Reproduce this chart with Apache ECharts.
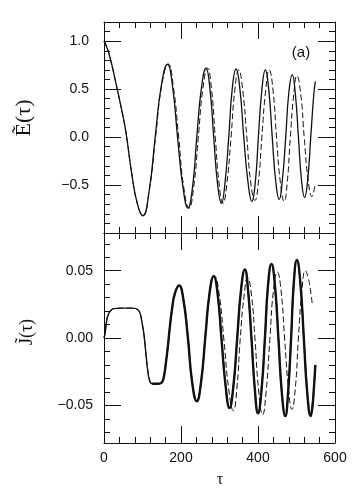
<!DOCTYPE html>
<html>
<head>
<meta charset="utf-8">
<script src="https://cdn.jsdelivr.net/npm/echarts@6/dist/echarts.min.js"></script>
<style>
  html, body { margin: 0; padding: 0; background: #fff; }
  #chart { width: 354px; height: 495px; }
</style>
</head>
<body>
<div id="chart"></div>
<script>
// E~(tau): solid and dashed curves, [tau, value]
const eSolid = [
  [0, 1.00], [6, 0.95], [15, 0.84], [30, 0.58], [45, 0.30], [57, 0.05], [72, -0.38], [87, -0.70], [101, -0.82],
  [117, -0.57], [133, 0.0], [149, 0.54], [165, 0.76],
  [178, 0.53], [191, 0.0], [205, -0.52], [218, -0.74],
  [230, -0.52], [241, 0.0], [253, 0.51], [265, 0.72],
  [275, 0.51], [285, 0.0], [295, -0.49], [305, -0.69],
  [314, -0.49], [324, 0.0], [333, 0.50], [343, 0.71],
  [353, 0.50], [363, 0.0], [374, -0.47], [384, -0.67],
  [393, -0.47], [401, 0.0], [410, 0.49], [419, 0.70],
  [428, 0.49], [437, 0.0], [446, -0.46], [455, -0.65],
  [463, -0.46], [472, 0.0], [480, 0.46], [489, 0.65],
  [497, 0.45], [505, 0.0], [513, -0.45], [521, -0.63],
  [529, -0.45], [537, 0.0], [545, 0.45], [549, 0.58]
];
const eDashed = [
  [0, 1.00], [6, 0.95], [15, 0.84], [30, 0.58], [45, 0.30], [57, 0.05], [72, -0.38], [87, -0.70], [101, -0.82],
  [117, -0.57], [134, 0.0], [150, 0.54], [167, 0.76],
  [180, 0.53], [194, 0.0], [207, -0.52], [221, -0.74],
  [233, -0.52], [245, 0.0], [257, 0.51], [269, 0.72],
  [279, 0.51], [289, 0.0], [299, -0.49], [309, -0.69],
  [319, -0.49], [330, 0.0], [340, 0.50], [350, 0.70],
  [360, 0.50], [371, 0.0], [381, -0.47], [392, -0.66],
  [401, -0.47], [410, 0.0], [420, 0.49], [429, 0.70],
  [439, 0.49], [448, 0.0], [458, -0.47], [468, -0.67],
  [476, -0.47], [484, 0.0], [493, 0.45], [501, 0.64],
  [511, 0.45], [520, 0.0], [530, -0.44], [540, -0.62],
  [548, -0.50]
];
// J~(tau)
const jSolid = [
  [0, 0.0], [3, 0.004], [7, 0.013], [12, 0.018], [18, 0.0205], [25, 0.0218], [50, 0.0222], [75, 0.0222],
  [88, 0.021], [94, 0.018], [99, 0.011], [104, 0.002], [109, -0.012], [114, -0.025], [119, -0.032],
  [125, -0.034], [140, -0.034], [150, -0.033], [156, -0.028], [161, -0.018], [166, -0.006],
  [171, 0.008], [177, 0.022], [184, 0.033], [195, 0.039],
  [206, 0.029], [218, 0.0], [229, -0.033], [241, -0.047],
  [252, -0.033], [263, 0.0], [274, 0.033], [285, 0.046],
  [295, 0.033], [305, 0.0], [316, -0.036], [326, -0.052],
  [336, -0.036], [346, 0.0], [356, 0.036], [366, 0.051],
  [374, 0.036], [383, 0.0], [392, -0.039], [400, -0.056],
  [409, -0.039], [418, 0.0], [426, 0.039], [435, 0.055],
  [444, 0.039], [453, 0.0], [462, -0.041], [471, -0.058],
  [478, -0.041], [486, 0.0], [493, 0.041], [501, 0.058],
  [510, 0.041], [519, 0.0], [528, -0.041], [537, -0.058],
  [541, -0.052], [545, -0.038], [549, -0.020]
];
const jDashed = [
  [0, 0.0], [3, 0.004], [7, 0.013], [12, 0.018], [18, 0.0205], [25, 0.0218], [50, 0.0222], [75, 0.0222],
  [88, 0.021], [94, 0.018], [99, 0.011], [104, 0.002], [109, -0.012], [114, -0.025], [119, -0.032],
  [125, -0.034], [140, -0.034], [150, -0.033], [156, -0.028], [161, -0.018], [166, -0.006],
  [171, 0.008], [177, 0.022], [184, 0.033], [195, 0.039],
  [206, 0.029], [218, 0.0], [229, -0.033], [241, -0.047],
  [252, -0.033], [263, 0.0], [274, 0.033], [287, 0.046],
  [299, 0.033], [311, 0.0], [324, -0.038], [336, -0.054],
  [345, -0.038], [354, 0.0], [364, 0.032], [373, 0.045],
  [383, 0.032], [392, 0.0], [402, -0.040], [412, -0.057],
  [421, -0.040], [431, 0.0], [440, 0.035], [450, 0.049],
  [460, 0.035], [469, 0.0], [479, -0.037], [488, -0.053],
  [497, -0.037], [505, 0.0], [514, 0.035], [523, 0.050],
  [530, 0.045], [536, 0.036], [541, 0.025]
];

// ticks
const eMajor = [-1.0, -0.5, 0.0, 0.5, 1.0];
const eLabels = [-0.5, 0.0, 0.5, 1.0];
const eMinor = [-0.9, -0.8, -0.7, -0.6, -0.4, -0.3, -0.2, -0.1, 0.1, 0.2, 0.3, 0.4, 0.6, 0.7, 0.8, 0.9, 1.1];
const jMajor = [-0.05, 0.0, 0.05];
const jLabels = [-0.05, 0.0, 0.05];
const jMinor = [-0.07, -0.06, -0.04, -0.03, -0.02, -0.01, 0.01, 0.02, 0.03, 0.04, 0.06, 0.07];

const chart = echarts.init(document.getElementById('chart'));
const ink = '#111';
const sans = 'Liberation Sans';

function fmt(d) {
    return function (v) {
        return (v < 0 ? '\u2212' : '') + Math.abs(v).toFixed(d);
    };
}

function xAx(grid, pos, labels) {
    return {
        type: 'value', gridIndex: grid, position: pos, min: 0, max: 600, interval: 200,
        axisLine: { onZero: false, lineStyle: { color: ink, width: 1 } },
        axisTick: { inside: true, length: 17, lineStyle: { color: ink } },
        minorTick: { show: true, splitNumber: 5, length: 6, lineStyle: { color: ink } },
        axisLabel: { show: labels, color: ink, fontFamily: sans, fontSize: 14, margin: 8 },
        splitLine: { show: false },
    };
}

function yAx(grid, pos, min, max, ticks, len, labels, d, line) {
    return {
        type: 'value', gridIndex: grid, position: pos, min: min, max: max,
        axisLine: { show: line, onZero: false, lineStyle: { color: ink, width: 1 } },
        axisTick: { inside: true, length: len, customValues: ticks, lineStyle: { color: ink } },
        axisLabel: labels
            ? { customValues: labels, formatter: fmt(d), color: ink, fontFamily: sans, fontSize: 14, margin: d === 1 ? 15 : 11 }
            : { show: false },
        splitLine: { show: false },
    };
}

const option = {
    animation: false,
    backgroundColor: '#fff',
    grid: [
        { left: 104, right: 19, top: 22, height: 211 },
        { left: 104, right: 19, top: 233, height: 210 },
    ],
    xAxis: [xAx(0, 'bottom', false), xAx(0, 'top', false), xAx(1, 'bottom', true), xAx(1, 'top', false)],
    yAxis: [
        yAx(0, 'left', -1.0, 1.2, eMajor, 17, eLabels, 1, true),
        yAx(0, 'left', -1.0, 1.2, eMinor, 6, null, 1, false),
        yAx(0, 'right', -1.0, 1.2, eMajor, 17, null, 1, true),
        yAx(0, 'right', -1.0, 1.2, eMinor, 6, null, 1, false),
        yAx(1, 'left', -0.078, 0.078, jMajor, 17, jLabels, 2, true),
        yAx(1, 'left', -0.078, 0.078, jMinor, 6, null, 2, false),
        yAx(1, 'right', -0.078, 0.078, jMajor, 17, null, 2, true),
        yAx(1, 'right', -0.078, 0.078, jMinor, 6, null, 2, false),
    ],
    series: [
        {
            type: 'line', xAxisIndex: 0, yAxisIndex: 0, data: eDashed, smooth: 0.5, showSymbol: false,
            lineStyle: { color: ink, width: 1, type: [6, 3] },
        },
        {
            type: 'line', xAxisIndex: 0, yAxisIndex: 0, data: eSolid, smooth: 0.5, showSymbol: false,
            lineStyle: { color: ink, width: 1.3 },
        },
        {
            type: 'line', xAxisIndex: 2, yAxisIndex: 4, data: jDashed, smooth: 0.5, showSymbol: false,
            lineStyle: { color: ink, width: 1, type: [6, 3] },
        },
        {
            type: 'line', xAxisIndex: 2, yAxisIndex: 4, data: jSolid, smooth: 0.5, showSymbol: false,
            lineStyle: { color: ink, width: 1.4 },
        },
        {
            // noisy thick band of the simulated current
            type: 'line', xAxisIndex: 2, yAxisIndex: 4, data: jSolid.filter(p => p[0] >= 120), smooth: 0.5, showSymbol: false,
            lineStyle: { color: ink, width: 2.4 },
        },
    ],
    graphic: [
        {
            type: 'text', x: 24, y: 118, rotation: Math.PI / 2,
            style: { text: '\u1EBC(\u03C4)', font: '22px "Liberation Serif"', fill: ink, align: 'center', verticalAlign: 'middle' },
        },
        {
            type: 'text', x: 27, y: 332, rotation: Math.PI / 2,
            style: { text: 'J\u0303(\u03C4)', font: '18px "Liberation Serif"', fill: ink, align: 'center', verticalAlign: 'middle' },
        },
        {
            type: 'text', x: 301, y: 53,
            style: { text: '(a)', font: '15px "Liberation Sans"', fill: ink, align: 'center', verticalAlign: 'middle' },
        },
        {
            type: 'text', x: 220, y: 480,
            style: { text: '\u03C4', font: '16px "Liberation Serif"', fill: ink, align: 'center', verticalAlign: 'middle' },
        },
    ],
};

chart.setOption(option);
</script>
</body>
</html>
